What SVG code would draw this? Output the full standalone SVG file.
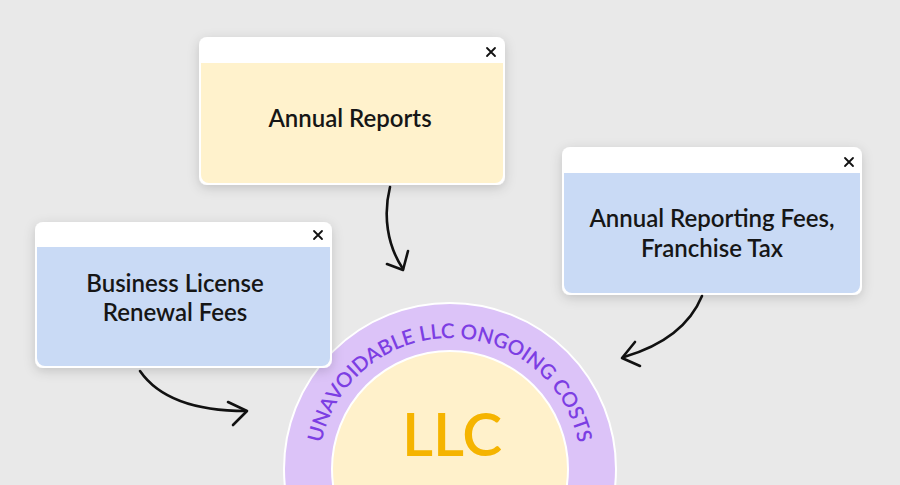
<svg xmlns="http://www.w3.org/2000/svg" width="900" height="485" viewBox="0 0 900 485">
<defs>
<filter id="sh" x="-20%" y="-20%" width="140%" height="150%">
<feDropShadow dx="0" dy="3" stdDeviation="6" flood-color="#000" flood-opacity="0.16"/>
</filter>
<path id="arc" d="M 319 469 A 131 131 0 0 1 581 469"/>
</defs>
<style>
.win{fill:#fff;filter:url(#sh)}
.yel{fill:#fff2cc}
.blu{fill:#c9daf5}
.x{stroke:#111;stroke-width:1.8;stroke-linecap:round;fill:none}
.lbl{font-family:Lato,"Noto Sans",sans-serif;font-size:24px;font-weight:600;fill:#161616;text-anchor:middle}
.arr{stroke:#111;stroke-width:2.6;fill:none;stroke-linecap:round;stroke-linejoin:round}
</style>
<rect width="900" height="485" fill="#e9e9e9"/>

<g id="llc">
<circle cx="450" cy="469" r="166" fill="#dcc3f8" stroke="#fff" stroke-width="2"/>
<circle cx="450" cy="469" r="118" fill="#fff1cb" stroke="#fff" stroke-width="2"/>
<text font-family="Lato,'Noto Sans',sans-serif" font-size="20.5" font-weight="600" fill="#7c3ee3" letter-spacing="0"><textPath href="#arc" startOffset="50%" text-anchor="middle">UNAVOIDABLE LLC ONGOING COSTS</textPath></text>
<text x="452" y="456" font-family="Lato,'Noto Sans',sans-serif" font-size="60" font-weight="600" fill="#f5b400" text-anchor="middle">LLC</text>
</g>

<g id="annual-reports">
<rect class="win" x="199" y="37" width="306" height="148" rx="8"/>
<path class="yel" d="M201 63 H503 V175 a8 8 0 0 1 -8 8 H209 a8 8 0 0 1 -8 -8 Z"/>
<path class="x" d="M487 48 L495 56 M495 48 L487 56"/>
<text class="lbl" x="350" y="127">Annual Reports</text>
</g>

<g id="business-license">
<rect class="win" x="35" y="222" width="297" height="146" rx="8"/>
<path class="blu" d="M37 247 H330 V358 a8 8 0 0 1 -8 8 H45 a8 8 0 0 1 -8 -8 Z"/>
<path class="x" d="M314 231 L322 239 M322 231 L314 239"/>
<text class="lbl" x="175" y="292">Business License</text>
<text class="lbl" x="175" y="321">Renewal Fees</text>
</g>

<g id="annual-reporting-fees">
<rect class="win" x="562" y="147" width="300" height="148" rx="8"/>
<path class="blu" d="M564 173 H860 V285 a8 8 0 0 1 -8 8 H572 a8 8 0 0 1 -8 -8 Z"/>
<path class="x" d="M845 158 L853 166 M853 158 L845 166"/>
<text class="lbl" x="712" y="227">Annual Reporting Fees,</text>
<text class="lbl" x="712" y="257">Franchise Tax</text>
</g>

<g id="connectors">
<path class="arr" d="M390 187 C383 215 387 245 403 269"/>
<path class="arr" d="M387 264 L403 270 L408 251"/>
<path class="arr" d="M140 371 C160 400 200 411 246 411"/>
<path class="arr" d="M228 402 L247 411 L233 425"/>
<path class="arr" d="M702 296 C690 325 665 345 624 357"/>
<path class="arr" d="M635 342 L622 358 L640 366"/>
</g>
</svg>
